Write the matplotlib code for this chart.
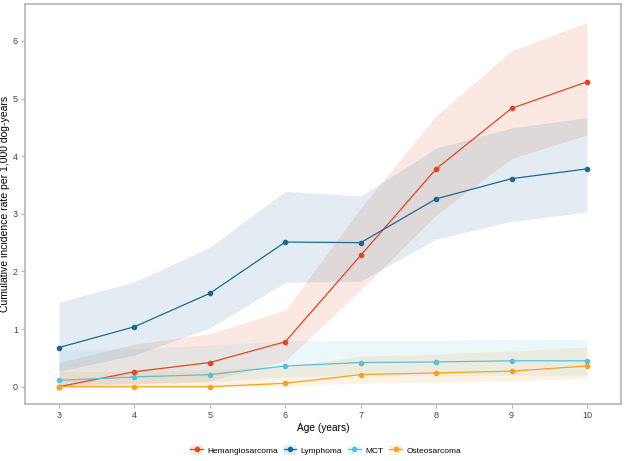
import matplotlib
matplotlib.use("Agg")
import matplotlib.pyplot as plt
from matplotlib.patches import Patch
from matplotlib.lines import Line2D

plt.rcParams['font.family'] = ['Liberation Sans', 'DejaVu Sans']

age = [3, 4, 5, 6, 7, 8, 9, 10]
series = ["Hemangiosarcoma", "Lymphoma", "MCT", "Osteosarcoma"]
colors = ["#E3461F", "#1A6A95", "#55C0DF", "#F7A21C"]

hsa = [0.00, 0.26, 0.42, 0.78, 2.28, 3.78, 4.83, 5.29]
hsa_lo = [0.00, 0.05, 0.10, 0.45, 1.68, 2.98, 3.96, 4.37]
hsa_hi = [0.42, 0.74, 0.92, 1.33, 3.10, 4.70, 5.83, 6.32]

lym = [0.68, 1.04, 1.62, 2.51, 2.50, 3.26, 3.61, 3.78]
lym_lo = [0.27, 0.55, 1.02, 1.81, 1.83, 2.56, 2.87, 3.03]
lym_hi = [1.47, 1.82, 2.42, 3.39, 3.31, 4.14, 4.49, 4.67]

mct = [0.11, 0.17, 0.21, 0.36, 0.42, 0.43, 0.45, 0.45]
mct_lo = [0.03, 0.06, 0.08, 0.17, 0.20, 0.20, 0.20, 0.20]
mct_hi = [0.63, 0.66, 0.72, 0.80, 0.81, 0.81, 0.82, 0.82]

ost = [0.00, 0.00, 0.00, 0.06, 0.21, 0.24, 0.27, 0.36]
ost_lo = [0.00, 0.00, 0.00, 0.01, 0.06, 0.08, 0.10, 0.15]
ost_hi = [0.26, 0.27, 0.29, 0.35, 0.53, 0.57, 0.62, 0.69]

data = [(hsa, hsa_lo, hsa_hi), (lym, lym_lo, lym_hi),
        (mct, mct_lo, mct_hi), (ost, ost_lo, ost_hi)]

fig = plt.figure(figsize=(6.25, 4.61), dpi=100)
ax = fig.add_axes([0.04, 0.1236, 0.9536, 0.8677])

for (y, lo, hi), c in zip(data, colors):
    ax.fill_between(age, lo, hi, color=c, alpha=0.12, linewidth=0)
for (y, lo, hi), c in zip(data, colors):
    ax.plot(age, y, color=c, lw=0.9, marker='o', markersize=3.0)

ax.set_xlim(2.55, 10.45)
ax.set_ylim(-0.30, 6.64)
ax.set_xticks(age)
ax.set_yticks([0, 1, 2, 3, 4, 5, 6])
for s in ax.spines.values():
    s.set_color('#b5b5b5')
    s.set_linewidth(1.2)
ax.tick_params(axis='both', colors='#b5b5b5', labelcolor='#444444',
               labelsize=6.5, length=3, width=0.8, pad=2)

ax.set_xlabel("Age (years)", fontsize=7.3, color='black', labelpad=2)
ax.set_ylabel("Cumulative incidence rate per 1,000 dog-years", fontsize=7.5,
              color='black')
ax.yaxis.set_label_coords(-0.026, 0.5)

handles = []
for c in colors:
    handles.append((Patch(facecolor=c, alpha=0.12, edgecolor='none'),
                    Line2D([], [], color=c, lw=0.9, marker='o', markersize=3.0)))
fig.legend(handles, series, loc='center', bbox_to_anchor=(0.521, 0.024),
           ncol=4, frameon=False, fontsize=6, handlelength=1.45,
           handleheight=1.45, columnspacing=0.75, handletextpad=0.55)

fig.savefig("out.png", dpi=100)
